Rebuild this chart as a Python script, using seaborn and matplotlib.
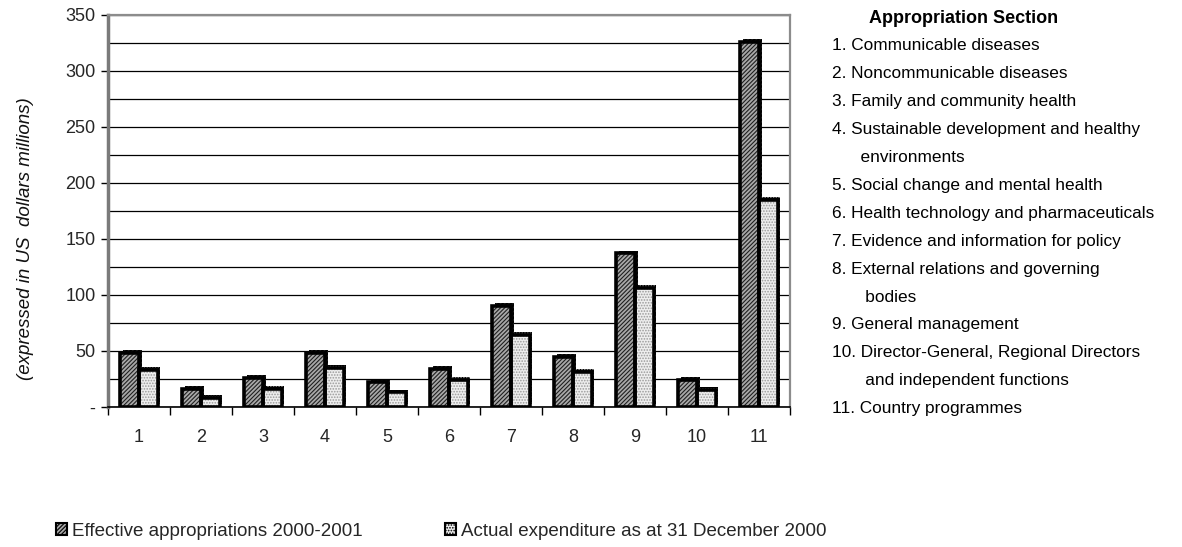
import numpy as np
import pandas as pd
import matplotlib
matplotlib.use("Agg")
import matplotlib.pyplot as plt
import matplotlib.patheffects as pe
from matplotlib.patches import Patch
from matplotlib.ticker import MultipleLocator, FixedLocator, FuncFormatter
import seaborn as sns

# Appropriation sections (x-axis categories)
sections = ["1", "2", "3", "4", "5", "6", "7", "8", "9", "10", "11"]
# US$ millions
effective = [48, 16, 26, 48, 22, 34, 90, 45, 137, 24, 326]
actual = [33, 8, 16, 35, 13, 24, 64, 31, 106, 15, 185]

series_names = ["Effective appropriations 2000-2001",
                "Actual expenditure as at 31 December 2000"]

section_titles = [
    "1. Communicable diseases",
    "2. Noncommunicable diseases",
    "3. Family and community health",
    "4. Sustainable development and healthy",
    "      environments",
    "5. Social change and mental health",
    "6. Health technology and pharmaceuticals",
    "7. Evidence and information for policy",
    "8. External relations and governing",
    "       bodies",
    "9. General management",
    "10. Director-General, Regional Directors",
    "       and independent functions",
    "11. Country programmes",
]

df = pd.DataFrame({
    "section": sections * 2,
    "value": effective + actual,
    "series": [series_names[0]] * len(sections) + [series_names[1]] * len(sections),
})

sns.set_theme(style="white")
plt.rcParams["font.family"] = ["Liberation Sans Narrow", "Liberation Sans", "DejaVu Sans"]
plt.rcParams["hatch.linewidth"] = 0.8

fig = plt.figure(figsize=(11.82, 5.47), dpi=100)
ax = fig.add_axes([0.0914, 0.256, 0.577, 0.717])

fills = {series_names[0]: "#a8a8a8", series_names[1]: "#eeeeee"}
hatches = {series_names[0]: "////////", series_names[1]: "......"}
hatch_cols = {series_names[0]: "#202020", series_names[1]: "#9a9a9a"}

# hatched fill with a dark drop shadow
sns.barplot(data=df, x="section", y="value", hue="series", order=sections,
            hue_order=series_names, width=0.6, gap=0, dodge=True,
            palette=fills, legend=False, ax=ax, zorder=3)
n = len(sections)
for i, p in enumerate(ax.patches[:2 * n]):
    s = series_names[i // n]
    p.set_hatch(hatches[s])
    p.set_edgecolor(hatch_cols[s])
    p.set_linewidth(0)
    p.set_path_effects([pe.SimplePatchShadow(offset=(2.0, 2.0), shadow_rgbFace="black", alpha=1.0),
                        pe.Normal()])

# black outlines on top
sns.barplot(data=df, x="section", y="value", hue="series", order=sections,
            hue_order=series_names, width=0.6, gap=0, dodge=True, fill=False,
            palette={k: "black" for k in series_names}, linewidth=2.6,
            legend=False, ax=ax, zorder=4)
for p in ax.patches[2 * n:]:
    p.set_edgecolor("black")
    p.set_linewidth(2.6)

ax.set_xlim(-0.5, 10.5)
ax.set_ylim(0, 350)

# axes frame: black axis lines, grey wall edges
for side in ["top", "right"]:
    ax.spines[side].set_color("#8c8c8c")
    ax.spines[side].set_linewidth(1.6)
ax.spines["left"].set_color("#7a7a7a")
ax.spines["left"].set_linewidth(2.5)
ax.spines["bottom"].set_color("black")
ax.spines["bottom"].set_linewidth(1.2)

ax.yaxis.set_major_locator(MultipleLocator(50))
ax.yaxis.set_minor_locator(MultipleLocator(25))
ax.yaxis.set_major_formatter(FuncFormatter(lambda v, _: "-" if v == 0 else f"{v:.0f}"))
ax.grid(True, axis="y", which="both", color="black", linewidth=0.9, zorder=0)
ax.set_axisbelow(True)

ax.tick_params(axis="y", which="major", direction="out", length=5, width=1,
               color="black", labelsize=13, pad=4, left=True)
ax.tick_params(axis="y", which="minor", length=0)
ax.xaxis.set_minor_locator(FixedLocator(np.arange(-0.5, 11, 1)))
ax.tick_params(axis="x", which="major", length=0, labelsize=13, pad=16)
ax.tick_params(axis="x", which="minor", direction="out", length=6, width=1,
               color="black", bottom=True)

ax.set_xlabel("")
ax.set_ylabel("(expressed in US  dollars millions)", fontsize=13.5, style="italic",
              color="#111111")
ax.yaxis.set_label_coords(-0.109, 0.43)

# bottom legend
handles = [Patch(facecolor=fills[s], edgecolor="black", hatch=hatches[s], linewidth=1.5)
           for s in series_names]
leg = fig.legend(handles, series_names, loc="center left",
                 bbox_to_anchor=(0.033, 0.029), ncol=2, frameon=False,
                 fontsize=13.5, handlelength=0.6, handleheight=0.6,
                 handletextpad=0.25, columnspacing=4.4)

# section key on the right
fig.text(0.815, 0.967, "Appropriation Section", fontsize=13, fontweight="bold",
         ha="center", va="center", color="black")
y0 = 1 - 46 / 547
step = 27.9 / 547
for k, line in enumerate(section_titles):
    fig.text(0.704, y0 - k * step, line, fontsize=12.4, ha="left", va="center",
             color="black")

fig.savefig("out.png", dpi=100)
